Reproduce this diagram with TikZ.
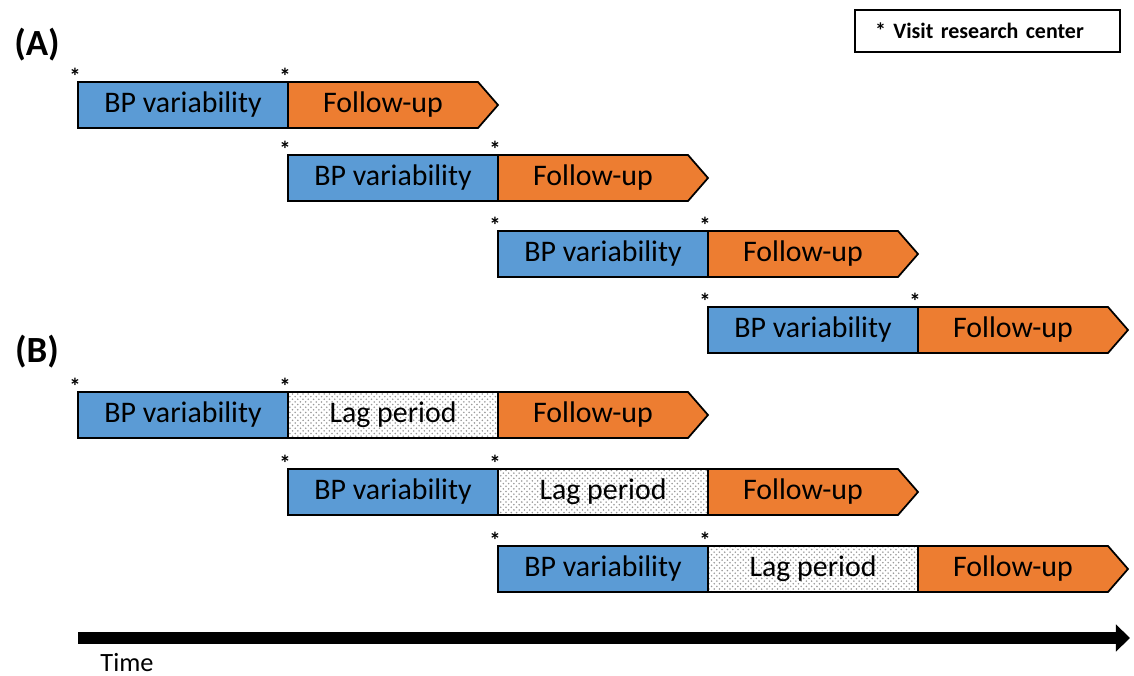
\documentclass[tikz,border=0pt]{standalone}
\usepackage{fontspec}
\setmainfont{Carlito}
\usetikzlibrary{positioning,arrows.meta,patterns}
\definecolor{bpblue}{HTML}{5B9BD5}
\definecolor{fuorange}{HTML}{ED7D31}

\begin{document}
\begin{tikzpicture}[x=0.02cm,y=-0.02cm,
    box/.style={draw,line width=1pt},
    lbl/.style={font=\fontsize{17}{20}\selectfont},
    visit/.style={font=\bfseries\fontsize{13}{15}\selectfont,inner sep=0pt},
    panel/.style={font=\bfseries\fontsize{21}{25}\selectfont}]
  \useasboundingbox (0,0) rectangle (1134,676);
  \def\w{210}
  % legend
  \node[draw,line width=0.8pt,minimum width=5.3cm,minimum height=0.84cm,
        text width=4.5cm,inner xsep=0.4cm,align=left,
        font=\bfseries\fontsize{12.5}{15}\selectfont] (legend) at (987.5,31) {* Visit research center};
  % (A) no lag
  \node[panel] (labA) at (37,45) {(A)};
  \foreach \x/\y [count=\i] in {78/82,288/155,498/231,708/307}{
    \draw[box,fill=bpblue] (\x,\y) rectangle ++(\w,46);
    \draw[box,fill=fuorange] (\x+\w,\y) -- ++(190,0) -- ++(20,23) -- ++(-20,23) -- ++(-190,0) -- cycle;
    \node[lbl] (bpA\i) at (\x+105,\y+23) {BP variability};
    \node[lbl] (fuA\i) at (\x+305,\y+23) {Follow-up};
    \node[visit] (sA\i) at (\x-3,\y-6) {*};
    \node[visit] (tA\i) at (\x+\w-3,\y-6) {*};
  }
  % (B) with lag period
  \node[panel] (labB) at (37,352) {(B)};
  \foreach \x/\y [count=\i] in {78/392,288/469,498/546}{
    \draw[box,fill=bpblue] (\x,\y) rectangle ++(\w,46);
    \draw[box,fill=white,pattern=crosshatch dots,pattern color=gray!80] (\x+\w,\y) rectangle ++(\w,46);
    \draw[box,fill=fuorange] (\x+2*\w,\y) -- ++(190,0) -- ++(20,23) -- ++(-20,23) -- ++(-190,0) -- cycle;
    \node[lbl] (bpB\i) at (\x+105,\y+23) {BP variability};
    \node[lbl] (lagB\i) at (\x+\w+105,\y+23) {Lag period};
    \node[lbl] (fuB\i) at (\x+2*\w+95,\y+23) {Follow-up};
    \node[visit] (sB\i) at (\x-3,\y-6) {*};
    \node[visit] (tB\i) at (\x+\w-3,\y-6) {*};
  }
  % time axis
  \coordinate (t0) at (78,638);
  \coordinate (t1) at (1130,638);
  \draw[line width=7.2pt,-{Triangle[length=8pt,width=15pt]}] (t0) -- (t1);
  \node[font=\fontsize{15}{18}\selectfont] (time) at (127,663) {Time};
\end{tikzpicture}
\end{document}
